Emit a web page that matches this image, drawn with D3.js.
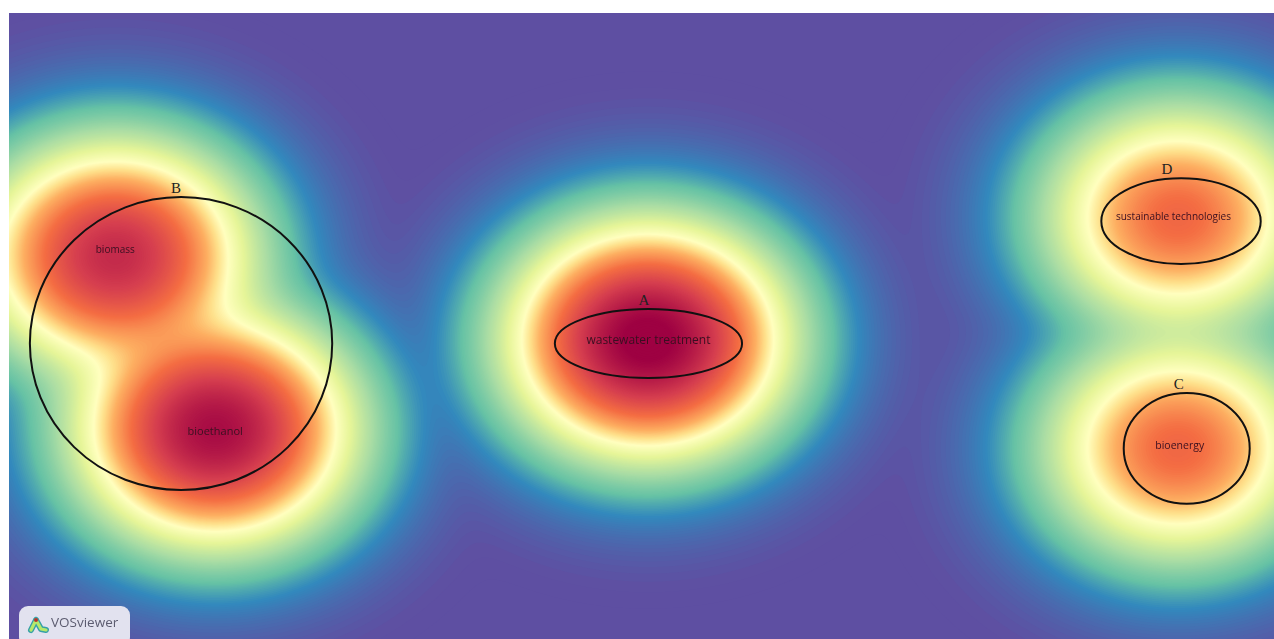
<!DOCTYPE html>
<html>
<head>
<meta charset="utf-8">
<script src="https://cdn.jsdelivr.net/npm/d3@7"></script>
<style>
    html, body { margin: 0; padding: 0; background: white; overflow: hidden; }
    svg { display: block; }
</style>
</head>
<body>
<svg id="density-map"></svg>
<script>
//terms of the density map, in map units (-1..1)
const terms = ["wastewater treatment", "biomass", "bioethanol", "sustainable technologies", "bioenergy"];
const termX = [0.010, -0.832, -0.674, 0.848, 0.848];
const termY = [-0.045, 0.224, -0.332, 0.348, -0.390];
const termWeight = [1.0, 0.85, 0.94, 0.68, 0.68];

//labels don't sit exactly on the peaks in the picture
const labelX = [0.011, -0.832, -0.674, 0.841, 0.851];
const labelY = [-0.045, 0.246, -0.335, 0.351, -0.380];

//hand drawn cluster marks on top of the map, also map units
const clusterLabels = ["A", "B", "C", "D"];
const clusterX = [0.011, -0.728, 0.862, 0.853];
const clusterY = [-0.056, -0.056, -0.391, 0.335];
const clusterRx = [0.148, 0.239, 0.0996, 0.126];
const clusterRy = [0.110, 0.468, 0.177, 0.137];

//density value at each step of the spectral ramp
const densityStops = [0.01, 0.105, 0.175, 0.275, 0.375, 0.45, 0.5, 0.558, 0.661, 0.79, 0.97];

const width = 1274, height = 639;
const left = 9, top_ = 13;
const sigmaX = 100, sigmaY = 84;
const blend = 2.8; //p-norm, neighbouring peaks only partly add up
const step = 2;
const labelSizes = [12, 10, 11, 10, 10.5];
const clusterLabelShift = [-4.5, -5, -8, -14];

const x = d3.scaleLinear().domain([-1, 1]).range([left, width]);
const y = d3.scaleLinear().domain([-1, 1]).range([height, top_]);

const color = d3.scaleLinear()
    .domain(densityStops)
    .range(d3.schemeSpectral[11].slice().reverse())
    .clamp(true);

const svg = d3.select("#density-map")
    .attr("width", width)
    .attr("height", height)
    .style("background", "white");

const defs = svg.append("defs");
defs.append("clipPath")
    .attr("id", "map-clip")
    .append("rect")
    .attr("x", left).attr("y", top_)
    .attr("width", width - left).attr("height", height - top_);
//picture is a soft jpeg, so the text gets a little blur
defs.append("filter")
    .attr("id", "soft")
    .append("feGaussianBlur")
    .attr("stdDeviation", 0.35);

//kernel density on a grid over the map
const cols = Math.ceil((width - left) / step) + 1;
const rows = Math.ceil((height - top_) / step) + 1;
const grid = new Float64Array(cols * rows);
for (let j = 0; j < rows; j++) {
    for (let i = 0; i < cols; i++) {
        const px = left + i * step, py = top_ + j * step;
        let sum = 0;
        terms.forEach((t, k) => {
            const dx = (px - x(termX[k])) / sigmaX;
            const dy = (py - y(termY[k])) / sigmaY;
            sum += Math.pow(termWeight[k] * Math.exp(-(dx * dx + dy * dy) / 2), blend);
        });
        grid[i + j * cols] = Math.pow(sum, 1 / blend);
    }
}

//nested contours, painted low to high so there are no seams
const thresholds = d3.range(0.006, 1.1, 0.005);
const contours = d3.contours().size([cols, rows]).thresholds(thresholds)(grid);

const map = svg.append("g").attr("clip-path", "url(#map-clip)");
map.append("rect")
    .attr("x", left).attr("y", top_)
    .attr("width", width - left).attr("height", height - top_)
    .attr("fill", color(0));

map.append("g")
    .attr("transform", `translate(${left - step / 2},${top_ - step / 2}) scale(${step})`)
    .selectAll("path")
    .data(contours)
    .join("path")
    .attr("d", d3.geoPath())
    .attr("fill", d => color(d.value));

//term labels
svg.selectAll("text.term")
    .data(terms)
    .join("text")
    .attr("class", "term")
    .attr("x", (d, i) => x(labelX[i]))
    .attr("y", (d, i) => y(labelY[i]))
    .attr("dy", "0.35em")
    .attr("text-anchor", "middle")
    .attr("filter", "url(#soft)")
    .style("font-family", "'Open Sans', sans-serif")
    .style("font-size", (d, i) => labelSizes[i] + "px")
    .style("fill", "#3a1020")
    .text(d => d);

//cluster ellipses
svg.selectAll("ellipse.cluster")
    .data(clusterLabels)
    .join("ellipse")
    .attr("class", "cluster")
    .attr("cx", (d, i) => x(clusterX[i]))
    .attr("cy", (d, i) => y(clusterY[i]))
    .attr("rx", (d, i) => x(clusterRx[i]) - x(0))
    .attr("ry", (d, i) => y(0) - y(clusterRy[i]))
    .attr("fill", "none")
    .attr("stroke", "#111")
    .attr("stroke-width", 2);

svg.selectAll("text.cluster-label")
    .data(clusterLabels)
    .join("text")
    .attr("class", "cluster-label")
    .attr("x", (d, i) => x(clusterX[i]) + clusterLabelShift[i])
    .attr("y", (d, i) => y(clusterY[i]) - (y(0) - y(clusterRy[i])) - 4)
    .attr("text-anchor", "middle")
    .style("font-family", "'Liberation Serif', serif")
    .style("font-size", "15px")
    .style("fill", "#222")
    .text(d => d);

//VOSviewer badge
const badge = svg.append("g").attr("transform", "translate(19,606)");
badge.append("rect")
    .attr("width", 111).attr("height", 40).attr("rx", 9)
    .attr("fill", "#e2e2ef");
const iconPath = "M17 14 L12 24 M17 14 L22 23 L27 24";
badge.append("path").attr("d", iconPath).attr("fill", "none")
    .attr("stroke", "#35a0a8").attr("stroke-width", 6).attr("stroke-linecap", "round").attr("stroke-linejoin", "round");
badge.append("path").attr("d", iconPath).attr("fill", "none")
    .attr("stroke", "#b6e86a").attr("stroke-width", 3.2).attr("stroke-linecap", "round").attr("stroke-linejoin", "round");
badge.append("circle").attr("cx", 17).attr("cy", 14).attr("r", 2).attr("fill", "#b5342c");
badge.append("text")
    .attr("x", 32).attr("y", 21)
    .attr("filter", "url(#soft)")
    .style("font-family", "'Open Sans', sans-serif")
    .style("font-size", "13.5px")
    .style("fill", "#5c5c70")
    .text("VOSviewer");
</script>
</body>
</html>
